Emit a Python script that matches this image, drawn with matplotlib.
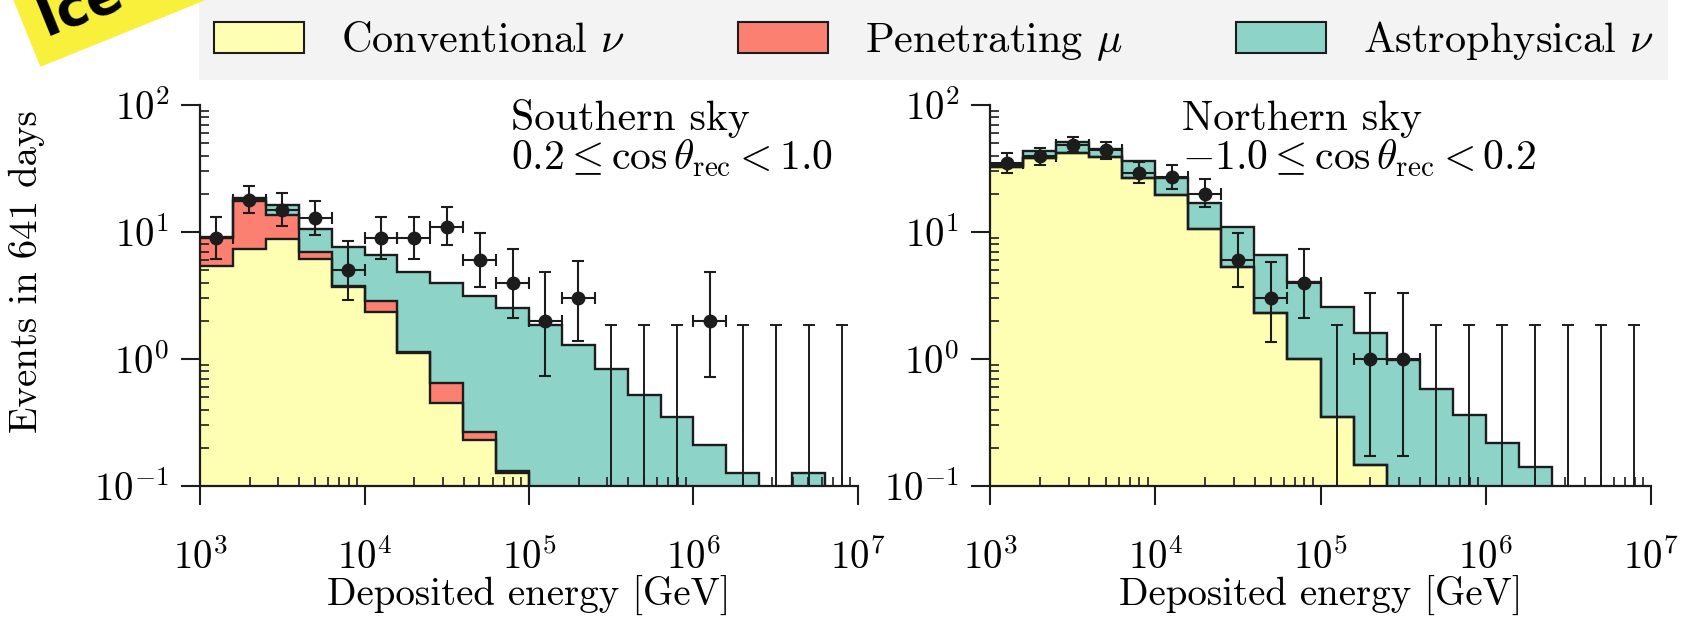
import numpy as np
import matplotlib
matplotlib.use('Agg')
import matplotlib.pyplot as plt
from matplotlib.patches import Patch, Rectangle
from matplotlib.ticker import LogLocator, FuncFormatter, NullFormatter

plt.rcParams['font.family'] = 'cmr10'
plt.rcParams['mathtext.fontset'] = 'cm'
plt.rcParams['axes.unicode_minus'] = False
plt.rcParams['axes.formatter.use_mathtext'] = True

# log10 bin edges, 5 bins per decade from 1 TeV to 10 PeV
log_edges = np.linspace(3, 7, 21)

# southern sky (0.2 <= cos theta < 1.0)
conv_s = [5.4, 7.3, 8.8, 6.1, 3.7, 2.36, 1.11, 0.45, 0.23, 0.126,
          0.07, 0.04, 0.02, 0.01, 0.005, 0.003, 0.002, 0.001, 0.0005, 0.0003]
muon_s = [3.6, 10.4, 4.8, 0.9, 0.05, 0.5, 0.03, 0.196, 0.038, 0.005,
          0, 0, 0, 0, 0, 0, 0, 0, 0, 0]
astro_s = [0.2, 0.9, 2.7, 3.6, 3.9, 3.74, 3.66, 3.31, 2.86, 2.4,
           1.78, 1.25, 0.81, 0.51, 0.345, 0.207, 0.124, 0.08, 0.125, 0.06]
obs_s = [9, 18, 15, 13, 5, 9, 9, 11, 6, 4, 2, 3, 0, 0, 0, 2, 0, 0, 0, 0]
lo_s = [6.1, 14.0, 11.2, 9.5, 2.9, 6.1, 6.1, 7.9, 3.7, 2.1, 0.73, 1.39,
        0, 0, 0, 0.72, 0, 0, 0, 0]
hi_s = [13.2, 23.2, 20.2, 17.5, 8.5, 13.2, 13.2, 15.7, 9.8, 7.3, 4.8, 5.9,
        1.84, 1.84, 1.84, 4.8, 1.84, 1.84, 1.84, 1.84]

# northern sky (-1.0 <= cos theta < 0.2)
conv_n = [32.3, 38.5, 42.1, 38.7, 26.5, 19.6, 10.5, 5.3, 2.29, 1.0,
          0.35, 0.145, 0.06, 0.03, 0.015, 0.007, 0.003, 0.002, 0.001, 0.0005]
muon_n = [0] * 20
astro_n = [1.4, 4.9, 9.3, 6.4, 9.7, 7.2, 6.5, 5.7, 4.3, 3.06,
           2.2, 1.445, 0.92, 0.55, 0.345, 0.21, 0.137, 0.068, 0.049, 0.03]
obs_n = [35, 40, 48, 44, 29, 27, 20, 6, 3, 4, 0, 1, 1, 0, 0, 0, 0, 0, 0, 0]
lo_n = [29.3, 33.7, 42.9, 37.6, 24.2, 21.7, 15.6, 3.7, 1.37, 2.1, 0, 0.173,
        0.173, 0, 0, 0, 0, 0, 0, 0]
hi_n = [42.1, 46.2, 55.6, 51.4, 35.4, 33.7, 26.0, 9.8, 5.8, 7.3, 1.84, 3.3,
        3.3, 1.84, 1.84, 1.84, 1.84, 1.84, 1.84, 1.84]

c_conv = '#ffffb3'
c_muon = '#fb8072'
c_astro = '#8dd3c7'
ink = '#1c1c1c'
fs = 28

fig = plt.figure(figsize=(16.9, 6.2), dpi=100)
ax_s = fig.add_axes([200/1690, 1-486/620, 658/1690, 381/620])
ax_n = fig.add_axes([990/1690, 1-486/620, 661/1690, 381/620])

edges = 10**log_edges
centres = 10**(0.5*(log_edges[:-1] + log_edges[1:]))


def panel(ax, conv, muon, astro, obs, lo, hi):
    conv, muon, astro = np.array(conv), np.array(muon), np.array(astro)
    obs, lo, hi = np.array(obs, float), np.array(lo), np.array(hi)
    bottom = np.full(20, 1e-4)
    for comp, col in [(conv, c_conv), (muon, c_muon), (astro, c_astro)]:
        top = bottom + comp
        ax.stairs(top, edges, baseline=bottom, fill=True, color=col, lw=0, zorder=1)
        ax.stairs(top, edges, baseline=None, color=ink, lw=1.7, zorder=2)
        bottom = top

    seen = obs > 0
    ax.errorbar(centres[seen], obs[seen],
                yerr=[obs[seen] - lo[seen], hi[seen] - obs[seen]],
                xerr=[centres[seen] - edges[:-1][seen], edges[1:][seen] - centres[seen]],
                fmt='o', color=ink, ms=9, elinewidth=1.5, capsize=4.5,
                capthick=1.5, zorder=4)
    # empty bins: upper limits only
    ul = ~seen
    ax.errorbar(centres[ul], hi[ul], yerr=[hi[ul] - 1e-3, np.zeros(ul.sum())],
                fmt='none', ecolor=ink, elinewidth=1.4, capsize=4.5,
                capthick=1.4, zorder=4)

    ax.set_xscale('log')
    ax.set_yscale('log')
    ax.set_xlim(1e3, 1e7)
    ax.set_ylim(0.1, 100)
    for s in ['top', 'right']:
        ax.spines[s].set_visible(False)
    for s in ['left', 'bottom']:
        ax.spines[s].set_linewidth(1.6)
        ax.spines[s].set_color(ink)
    fmt = FuncFormatter(lambda v, p: r'$10^{%d}$' % round(np.log10(v)))
    for axis in [ax.xaxis, ax.yaxis]:
        axis.set_major_locator(LogLocator(base=10, numticks=10))
        axis.set_minor_locator(LogLocator(base=10, subs=np.arange(2, 10), numticks=50))
        axis.set_major_formatter(fmt)
        axis.set_minor_formatter(NullFormatter())
    ax.tick_params(which='major', direction='out', length=14, width=1.5,
                   labelsize=fs, pad=8, color=ink)
    ax.tick_params(axis='x', which='major', pad=24)
    ax.tick_params(which='minor', direction='in', length=6.5, width=1.2, color=ink)
    ax.set_xlabel('Deposited energy [GeV]', fontsize=fs, labelpad=-1)


panel(ax_s, conv_s, muon_s, astro_s, obs_s, lo_s, hi_s)
panel(ax_n, conv_n, muon_n, astro_n, obs_n, lo_n, hi_n)

fig.text(27/1690, 1-272/620, 'Events in 641 days', rotation=90,
         ha='center', va='center', fontsize=fs)

fa = 30
fig.text(511/1690, 1-130/620, 'Southern sky', fontsize=fa, va='baseline')
fig.text(511/1690, 1-170/620, r'$0.2 \leq \cos\theta_{\mathrm{rec}} < 1.0$',
         fontsize=fa, va='baseline')
fig.text(1182/1690, 1-130/620, 'Northern sky', fontsize=fa, va='baseline')
fig.text(1182/1690, 1-170/620, r'$-1.0 \leq \cos\theta_{\mathrm{rec}} < 0.2$',
         fontsize=fa, va='baseline')

# grey band behind the legend, running off the top edge
fig.patches.append(Rectangle((199/1690, 1-80/620), 1469/1690, 80/620 + 0.02,
                             transform=fig.transFigure, fc='#f3f3f3', ec='none',
                             zorder=0))
fl = 30.5
handles = [Patch(facecolor=c, edgecolor=ink, lw=1.5)
           for c in [c_conv, c_muon, c_astro]]
labels = [r'Conventional $\nu$', r'Penetrating $\mu$', r'Astrophysical $\nu$']
em = fl * 100 / 72
fig.legend(handles, labels, loc='lower left',
           bbox_to_anchor=(199/1690, 1-78/620, 1469/1690, 78/620),
           mode='expand', ncol=3, fontsize=fl, frameon=False,
           handlelength=90/em, handleheight=31/em, handletextpad=37/em,
           columnspacing=87/em, borderaxespad=0, borderpad=0.35)

fig.text(45/1690, 1-36/620, 'IceCube', rotation=22, rotation_mode='anchor',
         ha='left', va='baseline', fontsize=38, fontweight='bold',
         family='DejaVu Sans', color='black',
         bbox=dict(boxstyle='square,pad=0.3', fc='#f8f03a', ec='none'))

fig.savefig('out.png', dpi=100)
